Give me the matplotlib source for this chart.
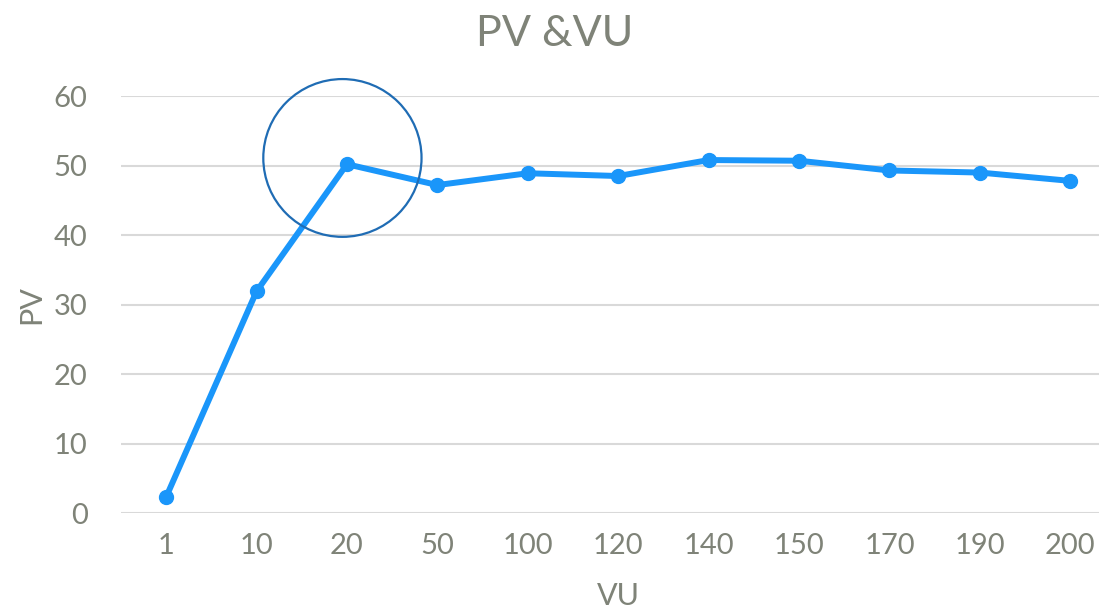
import matplotlib.pyplot as plt
from matplotlib.patches import Ellipse

# data
vu_labels = ["1", "10", "20", "50", "100", "120", "140", "150", "170", "190", "200"]
pv_values = [2.3, 31.9, 50.2, 47.2, 48.9, 48.5, 50.8, 50.7, 49.3, 49.0, 47.8]

text_color = "#7f8378"
line_color = "#1a96fa"

plt.rcParams['font.family'] = ['Lato', 'DejaVu Sans']

fig = plt.figure(figsize=(10.99, 6.16), dpi=100)
ax = fig.add_axes([0.110, 0.167, 0.905, 0.677])

x = list(range(len(vu_labels)))
ax.plot(x, pv_values, color=line_color, linewidth=4.3, marker="o",
        markersize=10, zorder=3)

# highlight circle around the point at VU=20
circ = Ellipse((1.95, 51.1), width=1.75, height=22.7, fill=False,
               edgecolor="#1f6cb4", linewidth=1.6, zorder=4, clip_on=False)
ax.add_patch(circ)

ax.set_xlim(-0.5, len(vu_labels) - 0.5)
ax.set_ylim(0, 60)
ax.set_yticks(range(0, 61, 10))
ax.set_xticks(x)
ax.set_xticklabels(vu_labels)
ax.grid(axis="y", color="#d9d9d9", linewidth=1.5)
ax.set_axisbelow(True)
for s in ax.spines.values():
    s.set_visible(False)
ax.tick_params(length=0, labelsize=21, labelcolor=text_color, pad=14)
ax.tick_params(axis="y", pad=24)

ax.set_xlabel("VU", fontsize=22, color=text_color, labelpad=17)
ax.set_ylabel("PV", fontsize=22, color=text_color, labelpad=6)
fig.text(0.505, 0.945, "PV &VU", ha="center", va="center",
         fontsize=31, color=text_color)

fig.savefig("out.png", dpi=100)
